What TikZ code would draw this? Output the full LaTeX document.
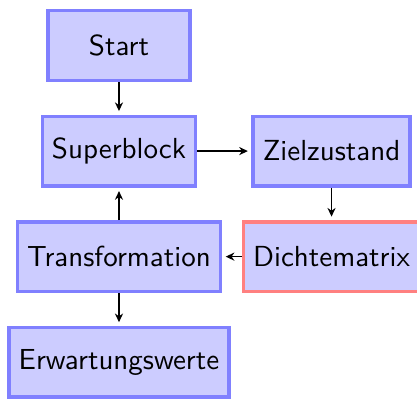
\documentclass[tikz,border=0pt]{standalone}
\usepackage{xcolor}
\usepackage{tikz}
\usetikzlibrary{arrows.meta,positioning}

\begin{document}
\begin{tikzpicture}[
  node distance=11.2pt and 18.6pt,
  block/.style={rectangle,draw=blue!50,fill=blue!20,very thick,align=center,minimum width=49.1pt,minimum height=24pt,font=\sffamily},
  marked/.style={block,draw=red!50},
  arrow/.style={-{Stealth[length=3pt,width=2.8pt]},shorten >=1.2pt}
]
\useasboundingbox (-41.03pt,15.69pt) rectangle (102.76pt,-121.55pt);
\node[block] (start) at (0,0) {Start};
\node[block,below=of start] (super) {Superblock};
\node[block,right=of super] (ziel) {Zielzustand};
\node[block,below=of super] (trafo) {Transformation};
\node[marked,below=of ziel] (dichte) {Dichtematrix};
\node[block,below=of trafo] (erw) {Erwartungswerte};
\draw[arrow] (start) -- (super);
\draw[arrow] (super) -- (ziel);
\draw[arrow] (ziel) -- (dichte);
\draw[arrow] (dichte) -- (trafo);
\draw[arrow] (trafo) -- (super);
\draw[arrow] (trafo) -- (erw);
\end{tikzpicture}
\end{document}
